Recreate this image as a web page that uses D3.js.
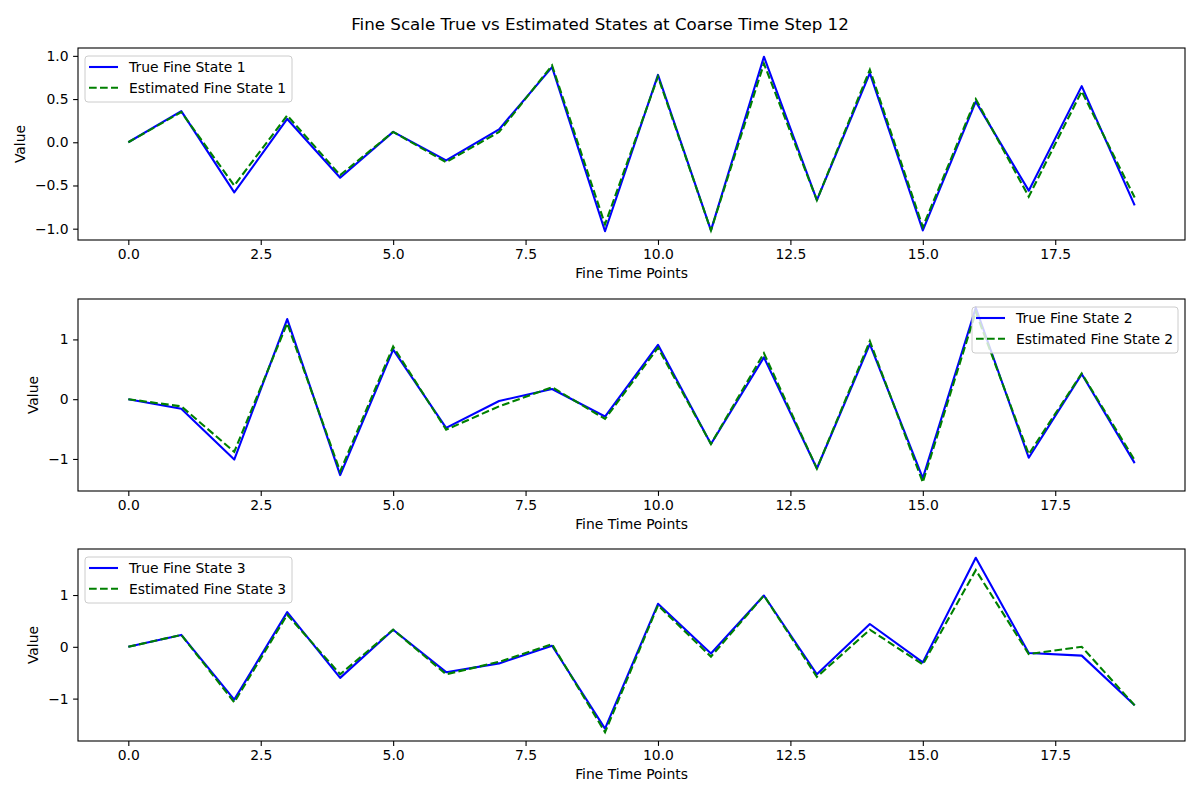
<!DOCTYPE html>
<html>
<head>
<meta charset="utf-8">
<script src="https://cdn.jsdelivr.net/npm/d3@7"></script>
<style>
  body { margin: 0; background: #fff; }
  svg text { font-family: "DejaVu Sans", sans-serif; fill: #000; }
</style>
</head>
<body>
<svg id="graph" width="1200" height="800"></svg>
<script>
// time index 0..19
var timePoints = d3.range(20);

// values
var trueState1 = [0, 0.36, -0.58, 0.27, -0.41, 0.12, -0.21, 0.15, 0.87, -1.03,
                  0.78, -1.02, 0.99, -0.67, 0.80, -1.02, 0.47, -0.56, 0.65, -0.73];
var estState1  = [0, 0.35, -0.50, 0.31, -0.38, 0.12, -0.23, 0.12, 0.89, -0.95,
                  0.76, -1.02, 0.91, -0.67, 0.84, -0.98, 0.50, -0.63, 0.59, -0.64];
var trueState2 = [0, -0.16, -1.01, 1.34, -1.27, 0.83, -0.48, -0.03, 0.17, -0.29,
                  0.91, -0.75, 0.70, -1.16, 0.92, -1.32, 1.53, -0.98, 0.42, -1.07];
var estState2  = [0, -0.12, -0.88, 1.27, -1.21, 0.88, -0.51, -0.12, 0.20, -0.33,
                  0.86, -0.75, 0.77, -1.16, 0.97, -1.39, 1.46, -0.92, 0.43, -1.02];
var trueState3 = [0, 0.23, -1.02, 0.67, -0.60, 0.33, -0.49, -0.32, 0.02, -1.58,
                  0.83, -0.13, 0.99, -0.53, 0.44, -0.30, 1.72, -0.12, -0.17, -1.13];
var estState3  = [0, 0.23, -1.07, 0.62, -0.53, 0.33, -0.53, -0.29, 0.05, -1.65,
                  0.80, -0.19, 0.99, -0.58, 0.33, -0.34, 1.48, -0.14, 0.00, -1.13];

var xTicks = [0, 2.5, 5, 7.5, 10, 12.5, 15, 17.5];
var yTicks1 = [-1, -0.5, 0, 0.5, 1];
var yTicks23 = [-1, 0, 1];

var panels = [
  {t: trueState1, e: estState1, n: 1, ticks: yTicks1, fmt: ".1f", top: 48, legend: "left"},
  {t: trueState2, e: estState2, n: 2, ticks: yTicks23, fmt: "d", top: 299, legend: "right"},
  {t: trueState3, e: estState3, n: 3, ticks: yTicks23, fmt: "d", top: 549, legend: "left"}
];

var left = 78, right = 1185, h = 192;
var svg = d3.select("#graph");

svg.append("text")
  .attr("x", 600).attr("y", 30)
  .attr("text-anchor", "middle")
  .style("font-size", "16.7px")
  .text("Fine Scale True vs Estimated States at Coarse Time Step 12");

// matplotlib-like 5% margins
var xPad = (d3.max(timePoints) - d3.min(timePoints)) * 0.05;
var x = d3.scaleLinear()
  .domain([d3.min(timePoints) - xPad, d3.max(timePoints) + xPad])
  .range([left, right]);

panels.forEach(function(p) {
  var all = p.t.concat(p.e);
  var lo = d3.min(all), hi = d3.max(all), pad = (hi - lo) * 0.05;
  var y = d3.scaleLinear().domain([lo - pad, hi + pad]).range([p.top + h, p.top]);
  var g = svg.append("g");

  // x axis
  var xa = g.append("g")
    .attr("transform", "translate(0," + (p.top + h) + ")")
    .call(d3.axisBottom(x).tickValues(xTicks).tickFormat(d3.format(".1f"))
      .tickSizeInner(4.9).tickSizeOuter(0).tickPadding(4));
  xa.select(".domain").remove();
  xa.selectAll("text").style("font-size", "13.9px");
  xa.selectAll("line").attr("stroke", "#000").attr("stroke-width", 1.1);

  // y axis
  var ya = g.append("g")
    .attr("transform", "translate(" + left + ",0)")
    .call(d3.axisLeft(y).tickValues(p.ticks).tickFormat(d3.format(p.fmt))
      .tickSizeInner(4.9).tickSizeOuter(0).tickPadding(4.5));
  ya.select(".domain").remove();
  ya.selectAll("text").style("font-size", "13.9px");
  ya.selectAll("line").attr("stroke", "#000").attr("stroke-width", 1.1);

  var maxW = 0;
  ya.selectAll("text").each(function() { maxW = Math.max(maxW, this.getBBox().width); });

  g.append("text")
    .attr("x", (left + right) / 2).attr("y", p.top + h + 38)
    .attr("text-anchor", "middle")
    .style("font-size", "13.9px")
    .text("Fine Time Points");

  var lx = left - 9.4 - maxW - 10;
  g.append("text")
    .attr("transform", "translate(" + lx + "," + (p.top + h / 2) + ") rotate(-90)")
    .attr("text-anchor", "middle")
    .style("font-size", "13.9px")
    .text("Value");

  var line = d3.line()
    .x(function(d, i) { return x(timePoints[i]); })
    .y(function(d) { return y(d); });

  g.append("path")
    .attr("fill", "none").attr("stroke", "#0000ff").attr("stroke-width", 2.1)
    .attr("stroke-linejoin", "round")
    .attr("d", line(p.t));
  g.append("path")
    .attr("fill", "none").attr("stroke", "#008000").attr("stroke-width", 2.1)
    .attr("stroke-dasharray", "7.7,3.3")
    .attr("d", line(p.e));

  // frame
  g.append("rect")
    .attr("x", left).attr("y", p.top)
    .attr("width", right - left).attr("height", h)
    .attr("fill", "none").attr("stroke", "#000").attr("stroke-width", 1.1);

  // legend
  var bw = p.legend == "left" ? 207 : 206;
  var bx = p.legend == "left" ? left + 7 : right - 7 - bw;
  var by = p.top + 8;
  var lg = g.append("g").attr("transform", "translate(" + bx + "," + by + ")");
  lg.append("rect")
    .attr("width", bw).attr("height", 46).attr("rx", 3)
    .attr("fill", "#fff").attr("fill-opacity", 0.8)
    .attr("stroke", "#cccccc").attr("stroke-width", 1);
  var items = [
    {label: "True Fine State " + p.n, color: "#0000ff", dash: null},
    {label: "Estimated Fine State " + p.n, color: "#008000", dash: "7.7,3.3"}
  ];
  items.forEach(function(it, k) {
    var yy = 11 + k * 20.7;
    lg.append("line")
      .attr("x1", 4).attr("x2", 33).attr("y1", yy).attr("y2", yy)
      .attr("stroke", it.color).attr("stroke-width", 2.1)
      .attr("stroke-dasharray", it.dash);
    lg.append("text")
      .attr("x", 44).attr("y", yy + 5)
      .style("font-size", "13.9px")
      .text(it.label);
  });
});
</script>
</body>
</html>
